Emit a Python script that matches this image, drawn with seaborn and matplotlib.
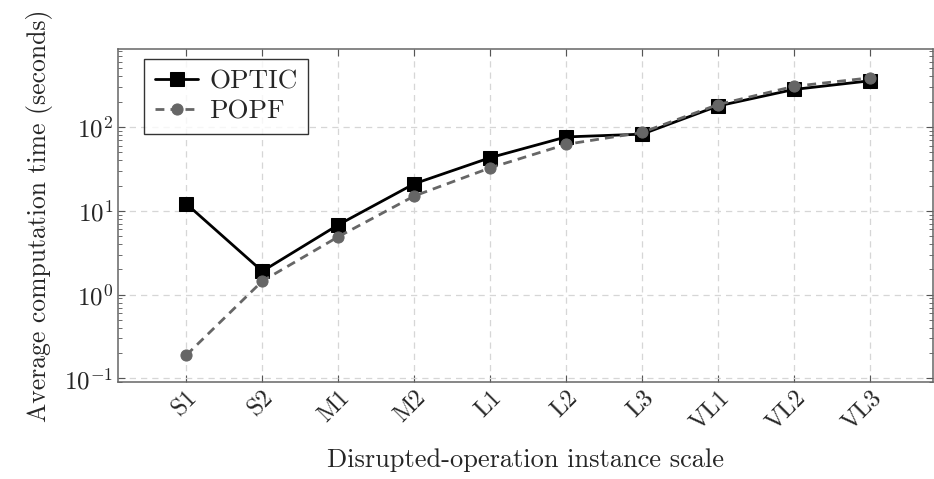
import matplotlib
matplotlib.use("Agg")
import matplotlib.pyplot as plt
import numpy as np
import pandas as pd
import seaborn as sns
from matplotlib.ticker import LogLocator, NullFormatter

# instance scales and average times (seconds)
scales = ["S1", "S2", "M1", "M2", "L1", "L2", "L3", "VL1", "VL2", "VL3"]
optic_times = [12.1, 1.9, 6.8, 21.0, 43.0, 76.0, 82.0, 178.0, 280.0, 355.0]
popf_times = [0.19, 1.45, 4.9, 15.0, 32.5, 62.0, 86.0, 185.0, 305.0, 385.0]

sns.set_style("ticks")
plt.rcParams["font.family"] = ["serif"]
plt.rcParams["font.serif"] = ["cmr10", "DejaVu Serif"]
plt.rcParams["mathtext.fontset"] = "cm"
plt.rcParams["axes.formatter.use_mathtext"] = True

df = pd.DataFrame({"pos": np.arange(len(scales)), "OPTIC": optic_times, "POPF": popf_times})

fig = plt.figure(figsize=(9.34, 4.79), dpi=100)
ax = fig.add_axes([0.1263, 0.2015, 0.8727, 0.6962])

sns.lineplot(data=df, x="pos", y="OPTIC", ax=ax, color="black", linewidth=2, marker="s",
             markersize=9.5, markeredgecolor="black", label="OPTIC", zorder=4)
sns.lineplot(data=df, x="pos", y="POPF", ax=ax, color="#666666", linewidth=2, linestyle=(0, (3.2, 2.2)),
             marker="o", markersize=8, markeredgecolor="#666666", label="POPF", zorder=5)

ax.set_yscale("log")
ax.set_ylim(0.0896, 850)
ax.set_xlim(-0.9, 9.83)
ax.set_xticks(df["pos"])
ax.set_xticklabels(scales, rotation=45, ha="right", rotation_mode="anchor", fontsize=17.5)
ax.yaxis.set_major_locator(LogLocator(base=10, numticks=10))
ax.yaxis.set_minor_locator(LogLocator(base=10, subs=np.arange(2, 10), numticks=10))
ax.yaxis.set_minor_formatter(NullFormatter())
ax.tick_params(axis="y", labelsize=18)

ax.tick_params(which="both", direction="in", top=True, right=True, color="#555555")
ax.tick_params(which="major", length=5, width=0.8)
ax.tick_params(which="minor", length=3, width=0.6)
ax.tick_params(axis="x", pad=3)

ax.grid(True, which="major", color="#d6d6d6", linestyle=(0, (5, 4)), linewidth=0.9)
for sp in ax.spines.values():
    sp.set_color("#666666")
    sp.set_linewidth(1.1)

ax.set_xlabel("Disrupted-operation instance scale", fontsize=19, labelpad=10)
ax.set_ylabel("Average computation time (seconds)", fontsize=18.5, labelpad=8)

leg = ax.legend(loc="upper left", bbox_to_anchor=(0.032, 0.97), borderaxespad=0, fontsize=19.5,
                frameon=True, fancybox=False, handlelength=1.6, handletextpad=0.4, borderpad=0.4,
                labelspacing=0.2)
leg.get_frame().set_edgecolor("black")
leg.get_frame().set_linewidth(1.0)

fig.savefig("out.png", dpi=100)
